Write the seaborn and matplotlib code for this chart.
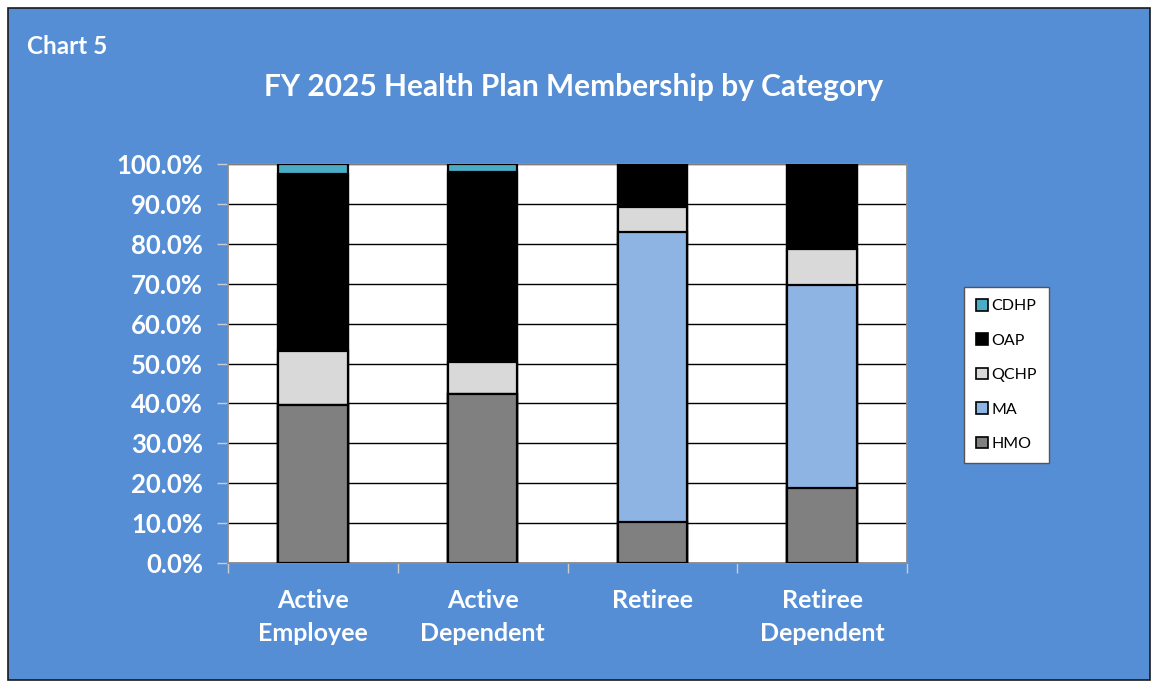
import numpy as np
import pandas as pd
import matplotlib
matplotlib.use("Agg")
import matplotlib.pyplot as plt
from matplotlib.patches import Rectangle, Patch
from matplotlib.ticker import FixedLocator
import seaborn as sns

# values (percent of each category's membership)
categories = ["Active\nEmployee", "Active\nDependent", "Retiree", "Retiree\nDependent"]
hmo = [39.6, 42.3, 10.2, 18.7]
ma = [0.0, 0.0, 72.8, 51.0]
qchp = [13.6, 8.0, 6.2, 8.9]
oap = [44.2, 47.6, 10.8, 21.4]
cdhp = [2.6, 2.1, 0.0, 0.0]

plans = ["HMO", "MA", "QCHP", "OAP", "CDHP"]
colors = {"HMO": "#808080", "MA": "#8EB4E3", "QCHP": "#D9D9D9",
          "OAP": "#000000", "CDHP": "#4BACC6"}
bg = "#558ED5"

df = pd.DataFrame({"category": categories, "HMO": hmo, "MA": ma,
                   "QCHP": qchp, "OAP": oap, "CDHP": cdhp})
# cumulative tops, drawn from the tallest down so lower segments overlay
cum = df[plans].cumsum(axis=1)
cum["category"] = df["category"]

sns.set_style("white")
plt.rcParams["font.family"] = ["Lato", "DejaVu Sans"]

fig = plt.figure(figsize=(11.54, 6.83), dpi=100, facecolor="white")
frame = Rectangle((8 / 1154, 3 / 683), 1142 / 1154, 672 / 683,
                  transform=fig.transFigure, facecolor=bg,
                  edgecolor="#1a1a1a", linewidth=1.2, zorder=-10)
fig.add_artist(frame)

ax = fig.add_axes([228 / 1154, 120 / 683, 679 / 1154, 399 / 683])
ax.set_facecolor("white")

for p in reversed(plans):
    sns.barplot(data=cum, x="category", y=p, color=colors[p], width=0.41,
                edgecolor="black", linewidth=1.6, saturation=1, ax=ax, zorder=3)

ax.set_ylim(0, 100)
ax.set_xlim(-0.5, 3.5)
ax.set_yticks(np.arange(0, 101, 10))
ax.set_yticklabels([f"{v:.1f}%" for v in np.arange(0, 101, 10)])
ax.yaxis.grid(True, color="black", linewidth=1.0)
ax.set_axisbelow(True)
ax.set_xlabel("")
ax.set_ylabel("")

for s in ax.spines.values():
    s.set_color("#8c8c8c")
    s.set_linewidth(1.3)

ax.tick_params(axis="y", which="major", left=True, length=8, width=1,
               color="#cccccc", labelcolor="white", labelsize=18.5, pad=10)
for t in ax.get_yticklabels():
    t.set_fontweight("bold")

ax.tick_params(axis="x", which="major", bottom=False, labelcolor="white",
               labelsize=18, pad=15)
for t in ax.get_xticklabels():
    t.set_fontweight("bold")
    t.set_linespacing(1.55)
ax.xaxis.set_minor_locator(FixedLocator([-0.5, 0.5, 1.5, 2.5, 3.5]))
ax.tick_params(axis="x", which="minor", bottom=True, length=7, width=1,
               color="#cccccc")

# legend, top entry first
order = ["CDHP", "OAP", "QCHP", "MA", "HMO"]
handles = [Patch(facecolor=colors[p], edgecolor="black", linewidth=1.2) for p in order]
leg = fig.legend(handles, order, loc="upper left",
                 bbox_to_anchor=(964 / 1154, 1 - 287 / 683),
                 frameon=True, fancybox=False, framealpha=1, fontsize=11.5,
                 handlelength=0.75, handleheight=0.75, handletextpad=0.2,
                 labelspacing=1.25, borderpad=0.75, borderaxespad=0)
leg.get_frame().set_edgecolor("#555555")
leg.get_frame().set_linewidth(1.0)
for t in leg.get_texts():
    t.set_color("black")

fig.text(27 / 1154, 1 - 47 / 683, "Chart 5", color="white", fontsize=17.5,
         fontweight="bold", va="center", ha="left")
fig.text(574 / 1154, 1 - 87 / 683, "FY 2025 Health Plan Membership by Category",
         color="white", fontsize=21.5, fontweight="bold", va="center", ha="center")

fig.savefig("out.png", dpi=100, facecolor=fig.get_facecolor())
